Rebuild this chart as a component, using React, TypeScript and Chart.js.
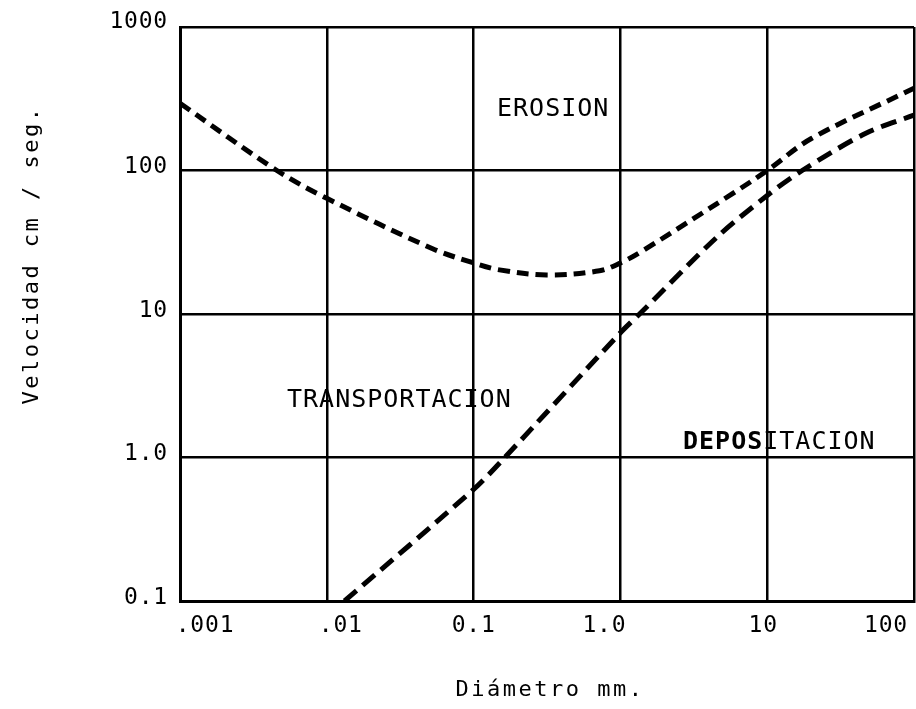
import React, { useEffect, useRef } from "react";
import { Chart, registerables } from "chart.js";

Chart.register(...registerables);

// ---- data ----
const xDecades = [0.001, 0.01, 0.1, 1, 10, 100];
const xTickLabels = [".001", ".01", "0.1", "1.0", "10", "100"];
const yDecades = [0.1, 1, 10, 100, 1000];
const yTickLabels = ["0.1", "1.0", "10", "100", "1000"];

const erosionX = [0.001, 0.00457, 0.01, 0.0526, 0.1, 0.15, 0.314, 0.72, 1.0, 1.41, 5.8, 10, 20, 100];
const erosionY = [294, 100, 64, 28.5, 22.7, 20.3, 18.7, 20, 22.7, 27.5, 69, 100, 167, 374];

const depositX = [0.0132, 0.1, 0.163, 1.0, 1.35, 4.5, 10, 17.3, 47, 100];
const depositY = [0.1, 0.6, 1.0, 7.4, 10, 34, 67, 100, 182, 243];

const regionLabels = ["EROSION", "TRANSPORTACION"];
const xTitle = "Diámetro mm.";
const yTitle = "Velocidad cm / seg.";

// ---- layout constants (pixels) ----
const xLabelShift = [25, 14, 0, -16, -4, -28];
const MONO = '"DejaVu Sans Mono", "Liberation Mono", monospace';

const textPlugin = {
  id: "textPlugin",
  beforeDraw(chart: any) {
    const ctx = chart.ctx as CanvasRenderingContext2D;
    ctx.save();
    ctx.fillStyle = "#fff";
    ctx.fillRect(0, 0, chart.width, chart.height);
    ctx.fillStyle = "#000";
    ctx.textBaseline = "middle";
    ctx.textAlign = "left";
    ctx.font = `25px ${MONO}`;
    (ctx as any).letterSpacing = "1px";
    ctx.fillText(regionLabels[0], 497, 109);
    ctx.fillText(regionLabels[1], 287, 400);
    ctx.font = `bold 25px ${MONO}`;
    const bold = "DEPOS";
    ctx.fillText(bold, 683, 442);
    const w = ctx.measureText(bold).width;
    ctx.font = `25px ${MONO}`;
    ctx.fillText("ITACION", 683 + w, 442);
    ctx.restore();
  },
  afterDraw(chart: any) {
    const ctx = chart.ctx as CanvasRenderingContext2D;
    const xs = chart.scales.x;
    const ys = chart.scales.y;
    ctx.save();
    ctx.fillStyle = "#000";
    ctx.font = `23px ${MONO}`;
    (ctx as any).letterSpacing = "0.8px";
    ctx.textBaseline = "middle";
    ctx.textAlign = "right";
    yDecades.forEach((v, i) => {
      const py = ys.getPixelForValue(v);
      ctx.fillText(yTickLabels[i], 168, py - (v === 1000 ? 5 : 3));
    });
    ctx.textAlign = "center";
    xDecades.forEach((v, i) => {
      const px = xs.getPixelForValue(v);
      ctx.fillText(xTickLabels[i], px + xLabelShift[i], 626);
    });
    ctx.font = `22px ${MONO}`;
    (ctx as any).letterSpacing = "2.5px";
    ctx.textAlign = "center";
    ctx.fillText(xTitle, 550, 690);
    ctx.translate(38, 255);
    ctx.rotate(-Math.PI / 2);
    ctx.textBaseline = "alphabetic";
    ctx.fillText(yTitle, 0, 0);
    ctx.restore();
  },
};

export default function App() {
  const ref = useRef<HTMLCanvasElement | null>(null);
  useEffect(() => {
    if (!ref.current) return;
    const chart = new Chart(ref.current, {
      type: "line",
      data: {
        datasets: [
          {
            label: "Erosión",
            data: erosionX.map((x, i) => ({ x, y: erosionY[i] })),
            borderColor: "#000",
            borderWidth: 5,
            borderDash: [12, 7],
            pointRadius: 0,
            tension: 0.35,
            fill: false,
          },
          {
            label: "Depositación",
            data: depositX.map((x, i) => ({ x, y: depositY[i] })),
            borderColor: "#000",
            borderWidth: 5,
            borderDash: [16, 8],
            pointRadius: 0,
            tension: 0.3,
            fill: false,
          },
        ],
      },
      options: {
        animation: false,
        responsive: true,
        maintainAspectRatio: false,
        layout: { padding: { left: 180, top: 27, right: 2, bottom: 108 } },
        plugins: { legend: { display: false }, tooltip: { enabled: false } },
        scales: {
          x: {
            type: "logarithmic",
            min: 0.001,
            max: 100,
            afterBuildTicks: (s: any) => {
              s.ticks = xDecades.map((v) => ({ value: v }));
            },
            ticks: { display: false },
            grid: { color: "#000", lineWidth: 2.5, drawTicks: false },
            border: { display: true, color: "#000", width: 3 },
          },
          y: {
            type: "logarithmic",
            min: 0.1,
            max: 1000,
            afterBuildTicks: (s: any) => {
              s.ticks = yDecades.map((v) => ({ value: v }));
            },
            ticks: { display: false },
            grid: { color: "#000", lineWidth: 2.5, drawTicks: false },
            border: { display: true, color: "#000", width: 3 },
          },
        },
      },
      plugins: [textPlugin],
    } as any);
    return () => chart.destroy();
  }, []);
  return (
    <div style={{ position: "fixed", left: 0, top: 0, width: 916, height: 709, background: "#fff" }}>
      <canvas ref={ref} />
    </div>
  );
}
